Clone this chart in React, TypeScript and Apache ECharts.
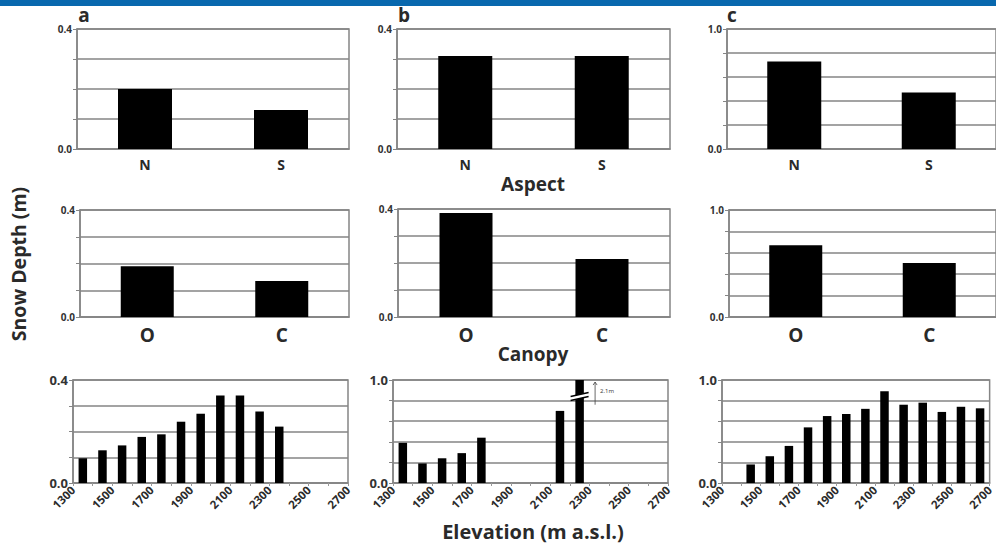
import React, { useEffect, useRef } from "react";
import * as echarts from "echarts";

// ---------- data ----------
const aspectCategories = ["N", "S"];
const aspectA = [0.2, 0.13];
const aspectB = [0.31, 0.31];
const aspectC = [0.73, 0.47];

const canopyCategories = ["O", "C"];
const canopyA = [0.19, 0.135];
const canopyB = [0.385, 0.215];
const canopyC = [0.67, 0.505];

const elevBinsA = [1350, 1450, 1550, 1650, 1750, 1850, 1950, 2050, 2150, 2250, 2350];
const elevA = [0.096, 0.127, 0.146, 0.179, 0.189, 0.238, 0.269, 0.34, 0.34, 0.278, 0.219];

const elevBinsB = [1350, 1450, 1550, 1650, 1750, 2150, 2250];
const elevB = [0.39, 0.19, 0.24, 0.29, 0.44, 0.7, 2.1];

const elevBinsC = [1450, 1550, 1650, 1750, 1850, 1950, 2050, 2150, 2250, 2350, 2450, 2550, 2650];
const elevC = [0.18, 0.26, 0.36, 0.54, 0.65, 0.67, 0.72, 0.89, 0.76, 0.78, 0.69, 0.74, 0.725];

const panelLetters = ["a", "b", "c"];
const elevMin = 1300;
const elevMax = 2700;

const FONT = "'Open Sans', 'DejaVu Sans', sans-serif";
const GRID_COLOR = "#858585";
const TEXT_COLOR = "#2a2a2a";

type Panel = {
  grid: { left: number; top: number; width: number; height: number };
  kind: "cat" | "elev";
  cats?: string[];
  bins?: number[];
  values: number[];
  max: number;
  interval: number;
  yFont: number;
  catFont?: number;
  barWidth: number;
};

export default function App() {
  const ref = useRef<HTMLDivElement>(null);

  useEffect(() => {
    if (!ref.current) return;
    const chart = echarts.init(ref.current, null, { renderer: "svg" });

    const panels: Panel[] = [
      // top row: aspect
      { grid: { left: 77, top: 29, width: 272, height: 120 }, kind: "cat", cats: aspectCategories, values: aspectA, max: 0.4, interval: 0.1, yFont: 10, catFont: 14, barWidth: 54 },
      { grid: { left: 397, top: 29, width: 273, height: 120 }, kind: "cat", cats: aspectCategories, values: aspectB, max: 0.4, interval: 0.1, yFont: 10, catFont: 14, barWidth: 54 },
      { grid: { left: 727, top: 29, width: 273, height: 120 }, kind: "cat", cats: aspectCategories, values: aspectC, max: 1.0, interval: 0.2, yFont: 10, catFont: 14, barWidth: 54 },
      // middle row: canopy
      { grid: { left: 80, top: 210, width: 269, height: 107 }, kind: "cat", cats: canopyCategories, values: canopyA, max: 0.4, interval: 0.1, yFont: 10, catFont: 19, barWidth: 53 },
      { grid: { left: 398, top: 209, width: 272, height: 108 }, kind: "cat", cats: canopyCategories, values: canopyB, max: 0.4, interval: 0.1, yFont: 10, catFont: 19, barWidth: 53 },
      { grid: { left: 729, top: 210, width: 272, height: 107 }, kind: "cat", cats: canopyCategories, values: canopyC, max: 1.0, interval: 0.2, yFont: 10, catFont: 19, barWidth: 53 },
      // bottom row: elevation
      { grid: { left: 73, top: 380, width: 275, height: 103 }, kind: "elev", bins: elevBinsA, values: elevA, max: 0.4, interval: 0.1, yFont: 13, barWidth: 8.5 },
      { grid: { left: 393, top: 380, width: 275, height: 103 }, kind: "elev", bins: elevBinsB, values: elevB, max: 1.0, interval: 0.2, yFont: 13, barWidth: 8.5 },
      { grid: { left: 722, top: 380, width: 277, height: 103 }, kind: "elev", bins: elevBinsC, values: elevC, max: 1.0, interval: 0.2, yFont: 13, barWidth: 8.5 },
    ];

    const grids = panels.map((p) => ({
      ...p.grid,
      show: true,
      borderColor: GRID_COLOR,
      borderWidth: 1.5,
      backgroundColor: "#fff",
      containLabel: false,
    }));

    const xAxes = panels.map((p, i) => {
      if (p.kind === "cat") {
        return {
          type: "category",
          gridIndex: i,
          data: p.cats,
          axisLine: { show: true, lineStyle: { color: GRID_COLOR, width: 1.5 } },
          axisTick: { show: false },
          axisLabel: {
            color: TEXT_COLOR,
            fontFamily: FONT,
            fontWeight: "bold",
            fontSize: p.catFont,
            margin: 8,
          },
        };
      }
      return {
        type: "value",
        gridIndex: i,
        min: elevMin,
        max: elevMax,
        interval: 100,
        splitLine: { show: false },
        axisLine: { show: true, lineStyle: { color: GRID_COLOR, width: 1.5 } },
        axisTick: { show: true, length: 3, lineStyle: { color: "#999", width: 1 } },
        axisLabel: {
          rotate: 45,
          margin: 5,
          color: TEXT_COLOR,
          fontFamily: FONT,
          fontWeight: "bold",
          fontSize: 11.5,
          showMinLabel: true,
          showMaxLabel: true,
          formatter: (v: number) => ((v - elevMin) % 200 === 0 ? String(v) : ""),
        },
      };
    });

    const yAxes = panels.map((p, i) => ({
      type: "value",
      gridIndex: i,
      min: 0,
      max: p.max,
      interval: p.interval,
      axisLine: { show: true, lineStyle: { color: GRID_COLOR, width: 1.5 } },
      axisTick: { show: true, length: 4, lineStyle: { color: GRID_COLOR, width: 1 } },
      splitLine: { show: true, lineStyle: { color: GRID_COLOR, width: 1.5 } },
      axisLabel: {
        color: "#333",
        fontFamily: FONT,
        fontWeight: "bold",
        fontSize: p.yFont,
        margin: 5,
        formatter: (v: number) =>
          Math.abs(v) < 1e-9 ? "0.0" : Math.abs(v - p.max) < 1e-9 ? p.max.toFixed(1) : "",
      },
    }));

    const series = panels.map((p, i) => ({
      type: "bar",
      xAxisIndex: i,
      yAxisIndex: i,
      barWidth: p.barWidth,
      clip: true,
      itemStyle: { color: "#000" },
      data: p.kind === "cat" ? p.values : p.values.map((v, j) => [p.bins![j], v]),
    }));

    const titleText = (text: string, x: number, y: number, size: number, extra: any = {}) => ({
      type: "text",
      x,
      y,
      z: 100,
      ...extra,
      style: {
        text,
        fill: TEXT_COLOR,
        font: `bold ${size}px ${FONT}`,
        align: "center",
        verticalAlign: "middle",
      },
    });

    const graphics: any[] = [
      ...panelLetters.map((l, i) => titleText(l, [84, 404, 732][i], 15, 19)),
      {
        type: "rect",
        z: 200,
        shape: { x: 0, y: 0, width: 996, height: 6 },
        style: { fill: "#0868ae" },
      },
      titleText("Aspect", 533, 184, 19),
      titleText("Canopy", 533, 354, 19),
      titleText("Elevation (m a.s.l.)", 533, 531, 20),
      titleText("Snow Depth (m)", 18, 264, 19.5, { rotation: Math.PI / 2 }),
    ];

    chart.setOption({
      animation: false,
      backgroundColor: "#fff",
      grid: grids,
      xAxis: xAxes,
      yAxis: yAxes,
      series,
      graphic: graphics,
    });

    // axis-break marker and "2.1m" note on the clipped bar of panel b (elevation)
    const clipped = elevB.length - 1;
    const [cx, cy] = chart.convertToPixel({ gridIndex: 7 }, [elevBinsB[clipped], 0.85]) as number[];
    const [, topY] = chart.convertToPixel({ gridIndex: 7 }, [elevBinsB[clipped], 0.98]) as number[];
    const [, botY] = chart.convertToPixel({ gridIndex: 7 }, [elevBinsB[clipped], 0.76]) as number[];
    const ax = cx + 15.5;
    chart.setOption({
      graphic: [
        ...graphics,
        {
          type: "polygon",
          z: 150,
          shape: { points: [[cx - 8, cy + 1], [cx + 8, cy - 3], [cx + 8, cy + 1], [cx - 8, cy + 5]] },
          style: { fill: "#fff" },
        },
        {
          type: "line",
          z: 151,
          shape: { x1: cx - 9, y1: cy + 1, x2: cx + 9, y2: cy - 3 },
          style: { stroke: "#000", lineWidth: 1.5 },
        },
        {
          type: "line",
          z: 151,
          shape: { x1: cx - 9, y1: cy + 5, x2: cx + 9, y2: cy + 1 },
          style: { stroke: "#000", lineWidth: 1.5 },
        },
        {
          type: "line",
          z: 151,
          shape: { x1: ax, y1: botY, x2: ax, y2: topY },
          style: { stroke: "#444", lineWidth: 0.8 },
        },
        {
          type: "polyline",
          z: 151,
          shape: { points: [[ax - 2, topY + 3], [ax, topY], [ax + 2, topY + 3]] },
          style: { stroke: "#444", lineWidth: 0.8, fill: "none" },
        },
        {
          type: "text",
          z: 151,
          x: ax + 5,
          y: (topY + botY) / 2 - 2,
          style: { text: "2.1m", fill: "#333", font: `6px ${FONT}`, verticalAlign: "middle" },
        },
      ],
    });

    return () => chart.dispose();
  }, []);

  return (
    <div
      ref={ref}
      style={{ position: "fixed", left: 0, top: 0, width: 996, height: 546, background: "#fff" }}
    />
  );
}
